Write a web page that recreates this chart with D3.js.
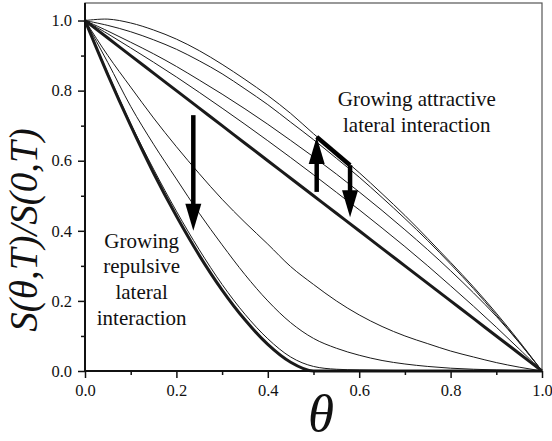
<!DOCTYPE html>
<html>
<head>
<meta charset="utf-8">
<script src="https://cdn.jsdelivr.net/npm/d3@7"></script>
<style>
  body { margin: 0; background: #fff; }
  svg text { font-family: Liberation Serif, Times New Roman, DejaVu Serif, Times, serif; fill: #111; }
</style>
</head>
<body>
<div id="chart"></div>
<script>
"use strict";

// coverage values
var theta = [0, 0.05, 0.1, 0.15, 0.2, 0.25, 0.3, 0.35, 0.4, 0.45, 0.5,
             0.55, 0.6, 0.65, 0.7, 0.75, 0.8, 0.85, 0.9, 0.95, 1.0];

// no interaction (thick straight line)
var langmuir = [1.00, 0.95, 0.90, 0.85, 0.80, 0.75, 0.70, 0.65, 0.60, 0.55, 0.50,
                0.45, 0.40, 0.35, 0.30, 0.25, 0.20, 0.15, 0.10, 0.05, 0.00];

// attractive lateral interaction (thin, above the straight line)
var attr1 = [1.000, 1.004, 0.993, 0.973, 0.947, 0.914, 0.875, 0.832, 0.786, 0.735, 0.677,
             0.622, 0.566, 0.506, 0.444, 0.378, 0.310, 0.240, 0.165, 0.085, 0.000];
var attr2 = [1.000, 0.986, 0.968, 0.945, 0.918, 0.885, 0.848, 0.805, 0.760, 0.710, 0.660,
             0.607, 0.553, 0.495, 0.435, 0.372, 0.305, 0.235, 0.160, 0.082, 0.000];
var attr3 = [1.000, 0.970, 0.938, 0.905, 0.869, 0.830, 0.790, 0.748, 0.704, 0.658, 0.611,
             0.562, 0.511, 0.458, 0.403, 0.346, 0.286, 0.223, 0.156, 0.081, 0.000];
var attr4 = [1.000, 0.962, 0.922, 0.881, 0.839, 0.795, 0.750, 0.704, 0.657, 0.609, 0.560,
             0.510, 0.460, 0.408, 0.355, 0.300, 0.243, 0.185, 0.125, 0.063, 0.000];

// repulsive lateral interaction (thin, below the straight line)
var rep1 = [1.000, 0.900, 0.810, 0.722, 0.640, 0.563, 0.490, 0.424, 0.362, 0.298, 0.247,
            0.200, 0.160, 0.127, 0.100, 0.078, 0.057, 0.040, 0.024, 0.011, 0.000];
var rep2 = [1.000, 0.880, 0.755, 0.647, 0.548, 0.450, 0.360, 0.275, 0.200, 0.138, 0.093,
            0.065, 0.045, 0.030, 0.020, 0.013, 0.008, 0.005, 0.003, 0.001, 0.000];
var rep3 = [1.000, 0.850, 0.706, 0.576, 0.456, 0.346, 0.247, 0.162, 0.092, 0.040, 0.013,
            0.005, 0.003, 0.002, 0.001, 0.001, 0.000, 0.000, 0.000, 0.000, 0.000];
// strongest repulsion (thick)
var repMax = [1.000, 0.845, 0.700, 0.565, 0.442, 0.330, 0.231, 0.146, 0.076, 0.025, 0.000,
              0.000, 0.000, 0.000, 0.000, 0.000, 0.000, 0.000, 0.000, 0.000, 0.000];

var xTicks = [0, 0.2, 0.4, 0.6, 0.8, 1.0];
var xMinor = [0.1, 0.3, 0.5, 0.7, 0.9];
var yTicks = [0, 0.2, 0.4, 0.6, 0.8, 1.0];
var yMinor = [0.1, 0.3, 0.5, 0.7, 0.9];

// arrows: [x0, y0, x1, y1] in data units, head at the end
var arrows = [
  [0.237, 0.730, 0.237, 0.400],
  [0.507, 0.511, 0.507, 0.668],
  [0.580, 0.587, 0.580, 0.439]
];
var connector = [[0.507, 0.668], [0.580, 0.587]];

var width = 552, height = 441;
var plot = { left: 85, right: 542, top: 3, bottom: 371 };
var serif = "Liberation Serif, Times New Roman, DejaVu Serif, Times, serif";

var svg = d3.select("#chart")
  .append("svg")
  .attr("width", width)
  .attr("height", height)
  .attr("font-family", serif);

var x = d3.scaleLinear().domain([0, 1]).range([plot.left, plot.right]);
var y = d3.scaleLinear().domain([0, 1.05]).range([plot.bottom, plot.top]);

// frame (thin gray top/right)
svg.append("rect")
  .attr("x", plot.left).attr("y", plot.top)
  .attr("width", plot.right - plot.left).attr("height", plot.bottom - plot.top)
  .attr("fill", "none").attr("stroke", "#555").attr("stroke-width", 1.2);

// curves
var smooth = d3.line()
  .x(function (d) { return x(d[0]); })
  .y(function (d) { return y(d[1]); })
  .curve(d3.curveCatmullRom.alpha(0.5));
var mono = d3.line()
  .x(function (d) { return x(d[0]); })
  .y(function (d) { return y(d[1]); })
  .curve(d3.curveMonotoneX);

var series = [
  { v: attr1, w: 1, l: smooth }, { v: attr2, w: 1, l: smooth },
  { v: attr3, w: 1, l: smooth }, { v: attr4, w: 1, l: smooth },
  { v: rep1, w: 1, l: mono }, { v: rep2, w: 1, l: mono }, { v: rep3, w: 1, l: mono },
  { v: langmuir, w: 3, l: mono }, { v: repMax, w: 3, l: mono }
];

svg.selectAll(".curve")
  .data(series)
  .enter()
  .append("path")
  .attr("class", "curve")
  .attr("fill", "none")
  .attr("stroke", "#1a1a1a")
  .attr("stroke-width", function (d) { return d.w; })
  .attr("d", function (d) {
    return d.l(theta.map(function (t, i) { return [t, d.v[i]]; }));
  });

// axes
var fmt = d3.format(".1f");
var xAxis = svg.append("g")
  .attr("transform", "translate(0," + plot.bottom + ")")
  .call(d3.axisBottom(x).tickValues(xTicks).tickFormat(fmt).tickSize(7).tickPadding(6));
var xAxisMinor = svg.append("g")
  .attr("transform", "translate(0," + plot.bottom + ")")
  .call(d3.axisBottom(x).tickValues(xMinor).tickFormat("").tickSize(4));
var yAxis = svg.append("g")
  .attr("transform", "translate(" + plot.left + ",0)")
  .call(d3.axisLeft(y).tickValues(yTicks).tickFormat(fmt).tickSize(7).tickPadding(6));
var yAxisMinor = svg.append("g")
  .attr("transform", "translate(" + plot.left + ",0)")
  .call(d3.axisLeft(y).tickValues(yMinor).tickFormat("").tickSize(4));

[xAxis, xAxisMinor, yAxis, yAxisMinor].forEach(function (g) {
  g.attr("font-family", serif).attr("font-size", 16.5);
  g.select(".domain").remove();
  g.selectAll("line").attr("stroke", "#111").attr("stroke-width", 1.5);
  g.selectAll("text").attr("fill", "#111");
});

// thick left and bottom axis lines
svg.append("line")
  .attr("x1", plot.left).attr("x2", plot.left)
  .attr("y1", plot.top).attr("y2", plot.bottom)
  .attr("stroke", "#111").attr("stroke-width", 2);
svg.append("line")
  .attr("x1", plot.left).attr("x2", plot.right)
  .attr("y1", plot.bottom).attr("y2", plot.bottom)
  .attr("stroke", "#111").attr("stroke-width", 2);

// arrows
svg.append("path")
  .attr("d", d3.line()(connector.map(function (p) { return [x(p[0]), y(p[1])]; })))
  .attr("fill", "none").attr("stroke", "#000").attr("stroke-width", 4.5)
  .attr("stroke-linejoin", "miter");

var headLen = 27, headHalf = 8;
arrows.forEach(function (a) {
  var x0 = x(a[0]), y0 = y(a[1]), x1 = x(a[2]), y1 = y(a[3]);
  var dir = y1 > y0 ? 1 : -1;
  svg.append("line")
    .attr("x1", x0).attr("y1", y0)
    .attr("x2", x1).attr("y2", y1 - dir * headLen * 0.6)
    .attr("stroke", "#000").attr("stroke-width", 4.5);
  svg.append("path")
    .attr("d", "M" + x1 + "," + y1 +
               "L" + (x1 - headHalf) + "," + (y1 - dir * headLen) +
               "L" + (x1 + headHalf) + "," + (y1 - dir * headLen) + "Z")
    .attr("fill", "#000");
});

// annotations
var attrText = svg.append("text")
  .attr("text-anchor", "middle")
  .attr("font-size", 21);
attrText.append("tspan").attr("x", x(0.726)).attr("y", 106).text("Growing attractive");
attrText.append("tspan").attr("x", x(0.726)).attr("y", 132).text("lateral interaction");

var repText = svg.append("text")
  .attr("text-anchor", "middle")
  .attr("font-size", 21);
["Growing", "repulsive", "lateral", "interaction"].forEach(function (s, i) {
  repText.append("tspan").attr("x", x(0.124)).attr("y", 247.5 + i * 25.8).text(s);
});

// axis titles
svg.append("text")
  .attr("text-anchor", "middle")
  .attr("transform", "translate(37,230) rotate(-90)")
  .attr("font-size", 39)
  .attr("font-style", "italic")
  .text("S(\u03B8,T)/S(0,T)");

svg.append("text")
  .attr("text-anchor", "middle")
  .attr("x", 321).attr("y", 431)
  .attr("font-size", 53)
  .attr("font-style", "italic")
  .text("\u03B8");
</script>
</body>
</html>
